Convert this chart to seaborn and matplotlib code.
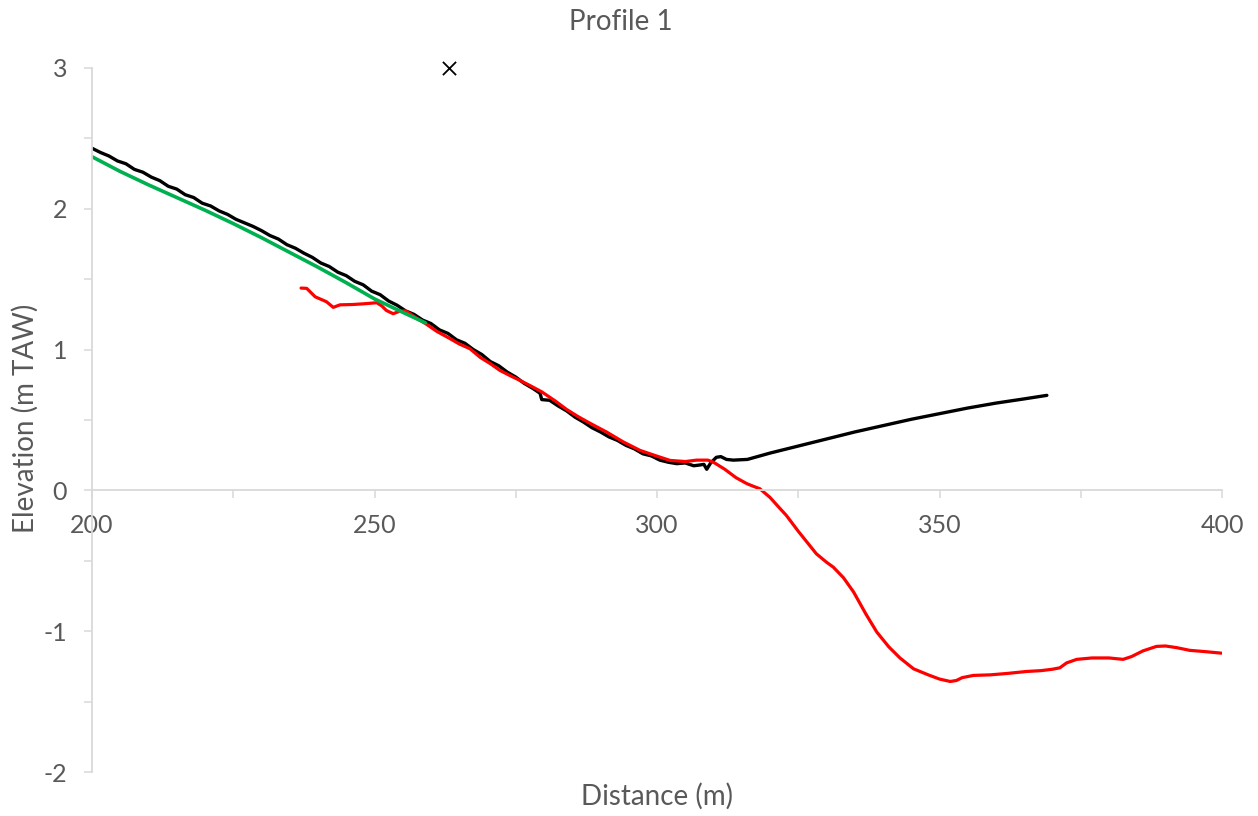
import numpy as np
import pandas as pd
import matplotlib
matplotlib.use("Agg")
import matplotlib.pyplot as plt
from matplotlib.ticker import MultipleLocator
import seaborn as sns

# ---- data ----
black_x = [200, 201.5, 203, 204.5, 206, 207.5, 209, 210.5, 212, 213.5, 215, 216.5, 218, 219.5,
           221, 222.5, 224, 225.5, 227, 228.5, 230, 231.5, 233, 234.5, 236, 237.5, 239, 240.5,
           242, 243.5, 245, 246.5, 248, 249.5, 251, 252.5, 254, 255.5, 257, 258.5, 260, 261.5,
           263, 264.5, 266, 267.5, 269, 270.5, 272, 273.5, 275, 276.5, 278, 279.3, 279.6, 281,
           282.5, 284, 285.5, 287, 288.5, 290, 291.5, 293, 294.5, 296, 297.5, 299, 300.5, 302,
           303.5, 305, 306.5, 307.5, 308.3, 308.8, 309.5, 310.5, 311.3, 312.3, 313.5, 316,
           320, 325, 330, 335, 340, 345, 350, 355, 360, 365, 369]
black_y = [2.43, 2.40, 2.375, 2.34, 2.32, 2.28, 2.26, 2.225, 2.20, 2.16, 2.14, 2.10, 2.08, 2.04,
           2.02, 1.985, 1.96, 1.925, 1.90, 1.875, 1.845, 1.81, 1.785, 1.745, 1.72, 1.685, 1.655, 1.615,
           1.59, 1.55, 1.525, 1.485, 1.46, 1.415, 1.39, 1.345, 1.315, 1.275, 1.25, 1.21, 1.185, 1.14,
           1.115, 1.07, 1.045, 1.0, 0.965, 0.915, 0.885, 0.84, 0.805, 0.76, 0.725, 0.69, 0.645, 0.64,
           0.60, 0.565, 0.52, 0.485, 0.445, 0.415, 0.38, 0.355, 0.32, 0.295, 0.26, 0.245, 0.215, 0.20,
           0.19, 0.195, 0.175, 0.18, 0.185, 0.15, 0.195, 0.235, 0.24, 0.22, 0.215, 0.22,
           0.265, 0.315, 0.365, 0.415, 0.46, 0.505, 0.545, 0.585, 0.62, 0.65, 0.675]

red_x = [237, 238, 239.5, 241.5, 242.7, 243.9, 246, 248, 250.4, 251.3, 252.1, 253.3, 254.5,
         255.5, 257, 259.2, 261, 263.4, 265, 266.9, 268.7, 270.5, 272.2, 274, 275.8, 277.5, 279.6,
         282, 284, 286, 288, 291.1, 294, 297, 299.5, 302.3, 305, 307, 309, 310, 312, 314, 315.9,
         317, 318.2, 320, 321.8, 322.9, 325, 328.2, 330, 331.2, 333, 334.8, 337, 338.9, 341, 343,
         345.4, 348, 350, 351.9, 353, 354, 356, 359, 362, 365.4, 368, 370, 371.3, 372.5, 374.3,
         377, 380, 382.5, 384, 386, 388.4, 390, 392, 394.3, 397, 399.9]
red_y = [1.437, 1.435, 1.375, 1.34, 1.30, 1.318, 1.32, 1.325, 1.333, 1.31, 1.278, 1.255, 1.273,
         1.275, 1.235, 1.18, 1.13, 1.077, 1.04, 1.006, 0.945, 0.90, 0.852, 0.815, 0.78, 0.745, 0.70,
         0.635, 0.575, 0.525, 0.48, 0.414, 0.345, 0.284, 0.25, 0.213, 0.205, 0.215, 0.215, 0.20,
         0.15, 0.09, 0.048, 0.03, 0.012, -0.05, -0.13, -0.178, -0.29, -0.45, -0.51, -0.545, -0.62,
         -0.722, -0.88, -1.006, -1.11, -1.19, -1.267, -1.31, -1.34, -1.357, -1.35, -1.33, -1.314,
         -1.31, -1.30, -1.286, -1.28, -1.27, -1.26, -1.225, -1.20, -1.19, -1.19, -1.20, -1.18,
         -1.14, -1.108, -1.105, -1.117, -1.136, -1.145, -1.156]

green_x = [200, 205, 210, 215, 220, 225, 230, 235, 240, 245, 250, 255, 259]
green_y = [2.37, 2.265, 2.17, 2.08, 1.99, 1.895, 1.795, 1.69, 1.585, 1.475, 1.36, 1.265, 1.19]

marker_x = [263.2]
marker_y = [3.0]

x_ticks = [200, 250, 300, 350, 400]
y_ticks = [-2, -1, 0, 1, 2, 3]

# ---- style ----
sns.set_style("white")
plt.rcParams['font.family'] = ['Lato', 'DejaVu Sans']
plt.rcParams['axes.unicode_minus'] = False
text_col = "#595959"
grid_col = "#d9d9d9"

fig = plt.figure(figsize=(12.58, 8.16), dpi=100)
ax = fig.add_axes([92 / 1258, 44 / 816, 1130 / 1258, 704 / 816])

black_df = pd.DataFrame({"x": black_x, "y": black_y})
red_df = pd.DataFrame({"x": red_x, "y": red_y})
green_df = pd.DataFrame({"x": green_x, "y": green_y})

sns.lineplot(data=black_df, x="x", y="y", sort=False, estimator=None, color="black", lw=2.4, ax=ax)
sns.lineplot(data=red_df, x="x", y="y", sort=False, estimator=None, color="#ff0000", lw=2.3, ax=ax)
sns.lineplot(data=green_df, x="x", y="y", sort=False, estimator=None, color="#00b050", lw=2.6, ax=ax)
sns.scatterplot(x=marker_x, y=marker_y, marker="x", s=90, color="black", linewidth=1.3,
                ax=ax, clip_on=False, zorder=5)

ax.set_xlim(200, 400)
ax.set_ylim(-2, 3)
ax.set_xticks(x_ticks)
ax.set_yticks(y_ticks)
ax.xaxis.set_minor_locator(MultipleLocator(25))
ax.yaxis.set_minor_locator(MultipleLocator(0.5))

for s in ["top", "right"]:
    ax.spines[s].set_visible(False)
ax.spines["bottom"].set_position(("data", 0))
for s in ["bottom", "left"]:
    ax.spines[s].set_color(grid_col)
    ax.spines[s].set_linewidth(1.3)

ax.tick_params(axis="both", which="both", direction="out", length=6, width=1.1,
               color=grid_col, labelcolor=text_col, labelsize=18,
               bottom=True, left=True, top=False, right=False)
ax.tick_params(axis="x", which="major", pad=11)
ax.tick_params(axis="y", which="major", pad=12)
ax.set_xlabel("")
ax.set_ylabel("")
ax.grid(False)

fig.text(621 / 1258, 1 - 30 / 816, "Profile 1", ha="center", va="baseline",
         fontsize=20, color=text_col)
fig.text(657 / 1258, 1 - 805 / 816, "Distance (m)", ha="center", va="baseline",
         fontsize=20, color=text_col)
fig.text(34 / 1258, 1 - 418 / 816, "Elevation (m TAW)", ha="center", va="baseline",
         rotation=90, rotation_mode="anchor", fontsize=20, color=text_col)

fig.savefig("out.png", dpi=100)
